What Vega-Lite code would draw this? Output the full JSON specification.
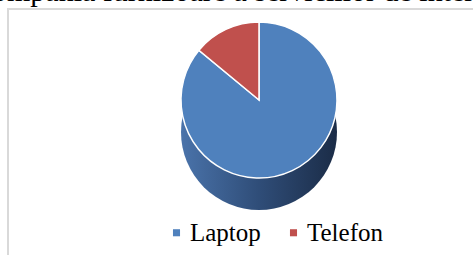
{
  "$schema": "https://vega.github.io/schema/vega-lite/v6.json",
  "width": 470,
  "height": 250,
  "autosize": {"type": "none"},
  "padding": {"left": 8, "top": 9, "right": 0, "bottom": 0},
  "background": "white",
  "view": {"stroke": "#d9d9d9", "strokeWidth": 2, "fill": "white"},
  "title": {
    "text": "Compania furnizoare a serviciilor de internet",
    "anchor": "start",
    "frame": "group",
    "font": "Liberation Serif",
    "fontSize": 30,
    "fontWeight": "normal",
    "color": "black",
    "baseline": "alphabetic",
    "offset": 0,
    "dx": -36,
    "dy": 21.5
  },
  "data": {
    "values": [
      {"device": "Laptop", "value": 86},
      {"device": "Telefon", "value": 14}
    ]
  },
  "layer": [
    {
      "transform": [{"aggregate": [{"op": "sum", "field": "value", "as": "total"}]}],
      "mark": {
        "type": "arc",
        "radius": 78,
        "xOffset": 16,
        "yOffset": -2,
        "color": {
          "gradient": "linear",
          "x1": 0, "y1": 0, "x2": 1, "y2": 0,
          "stops": [
            {"offset": 0, "color": "#4a73aa"},
            {"offset": 0.5, "color": "#2f4d78"},
            {"offset": 1, "color": "#1b2c47"}
          ]
        }
      },
      "encoding": {
        "theta": {"field": "total", "type": "quantitative"}
      }
    },
    {
      "mark": {
        "type": "arc",
        "radius": 78,
        "xOffset": 16,
        "yOffset": -34,
        "stroke": "white",
        "strokeWidth": 1.5
      },
      "encoding": {
        "theta": {"field": "value", "type": "quantitative", "stack": true},
        "color": {
          "field": "device",
          "type": "nominal",
          "scale": {"domain": ["Laptop", "Telefon"], "range": ["#4f81bd", "#c0504d"]},
          "legend": {
            "title": null,
            "orient": "none",
            "direction": "horizontal",
            "legendX": 156,
            "legendY": 211,
            "symbolType": "square",
            "symbolSize": 50,
            "symbolStrokeWidth": 0,
            "labelFont": "Liberation Serif",
            "labelFontSize": 25,
            "labelColor": "black",
            "labelOffset": 1,
            "columnPadding": 20
          }
        }
      }
    }
  ],
  "config": {
    "view": {"stroke": "#d9d9d9", "strokeWidth": 2}
  }
}
